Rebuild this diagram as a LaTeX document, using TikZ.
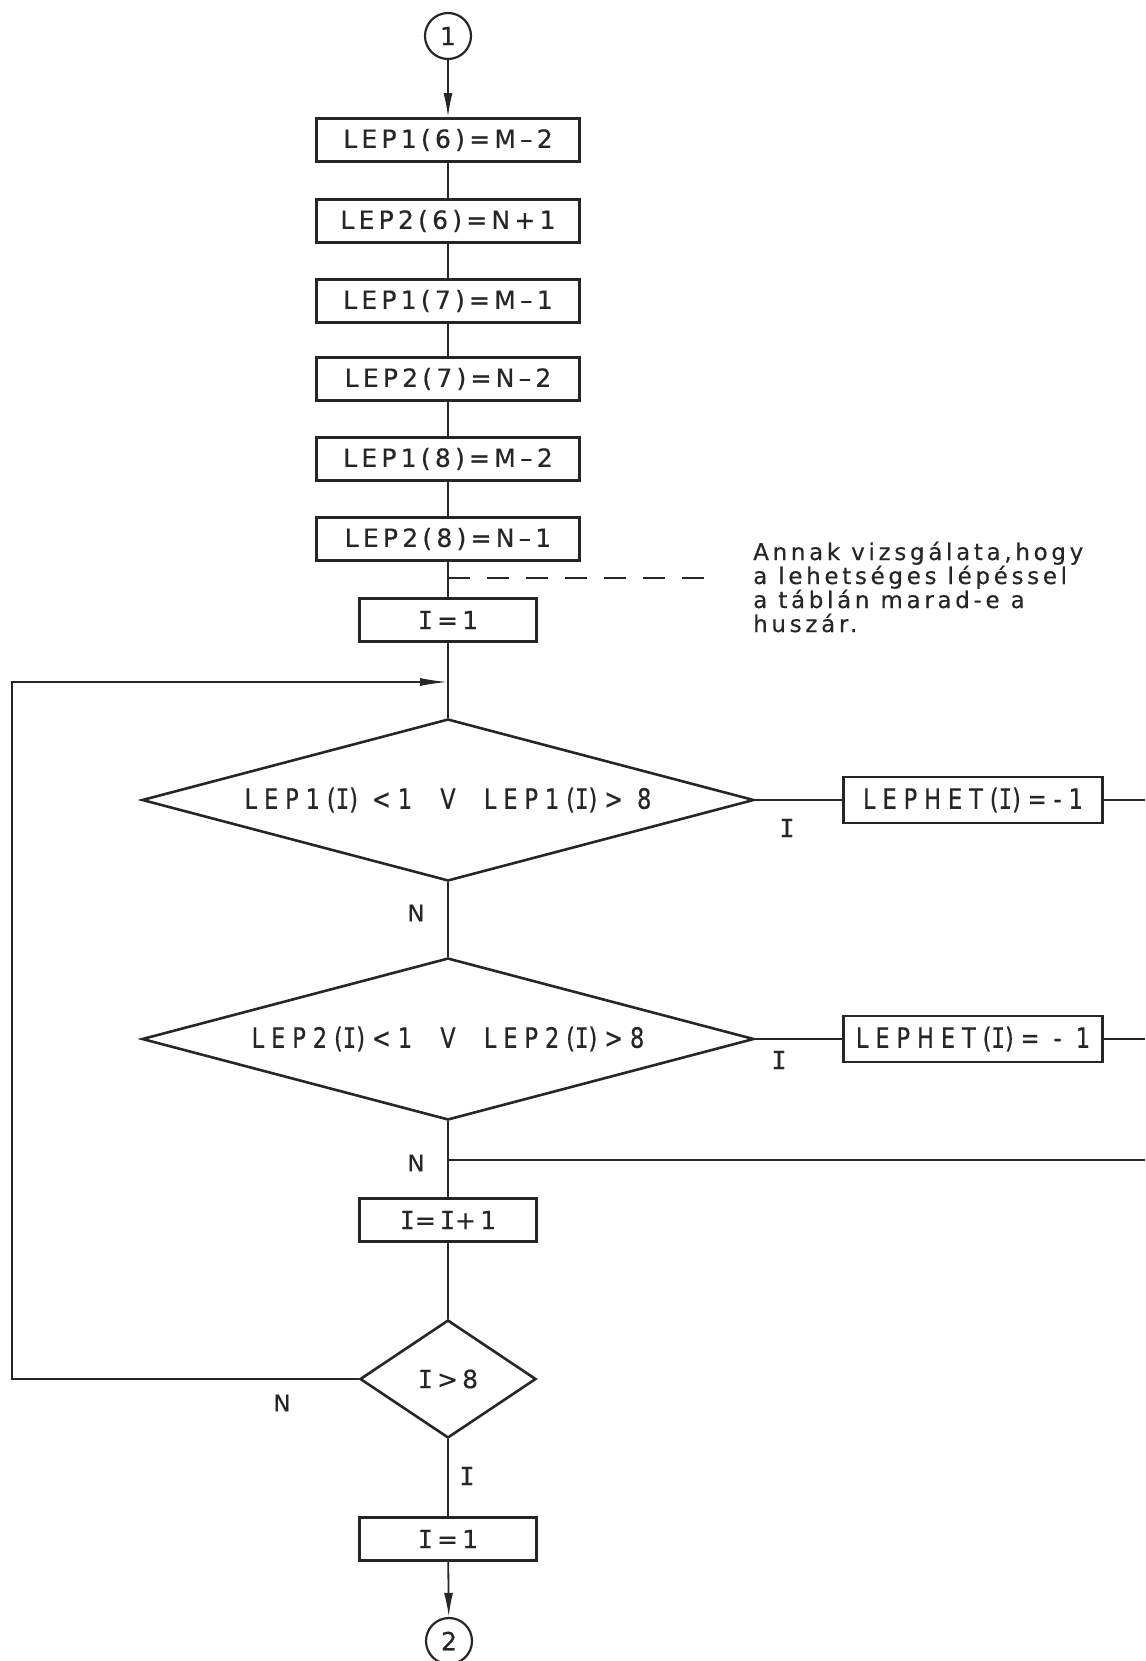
\documentclass[tikz,border=0pt]{standalone}
\usepackage{fontspec}
\usetikzlibrary{shapes.geometric,arrows.meta}
\setmainfont{DejaVu Sans}
\newfontfamily\boxfont{DejaVu Sans}[LetterSpace=17,FakeBold=0.5]
\newfontfamily\notefont{DejaVu Sans}[LetterSpace=16,FakeBold=0.4]
\newfontfamily\condfont{DejaVu Sans}[FakeStretch=0.8,LetterSpace=25,FakeBold=0.5]
\newfontfamily\monoI{DejaVu Sans Mono}[FakeBold=0.5]
\newfontfamily\condmonoI{DejaVu Sans Mono}[FakeStretch=0.8,FakeBold=0.5]
% serifed capital I as used in the stencil lettering
\newcommand\romI{{\monoI I}}
\newcommand\cndI{{\condmonoI I}}
\newcommand\boxtxt{\boxfont\fontsize{25}{30}\selectfont}
\newcommand\condtxt{\condfont\fontsize{28}{32}\selectfont}
\newcommand\notetxt{\notefont\fontsize{23}{25}\selectfont}
\definecolor{ink}{RGB}{38,38,38}
\begin{document}
\begin{tikzpicture}[x=1pt,y=-1pt,
  procbox/.style={draw=ink,line width=2.6pt,rectangle,inner sep=0pt,
    minimum height=43pt,font=\boxtxt,text=ink},
  widebox/.style={procbox,minimum width=263pt},
  narrowbox/.style={procbox,minimum width=177pt},
  setbox/.style={procbox,minimum width=259pt,minimum height=46pt,font=\condtxt},
  decision/.style={diamond,draw=ink,line width=2.6pt,inner sep=0pt,text=ink},
  conn/.style={draw=ink,line width=1.8pt},
  flow/.style={conn,-{Latex[length=24pt,width=9pt]}},
  loopflow/.style={conn,-{Latex[length=28pt,width=8pt]}},
  connector/.style={circle,draw=ink,line width=2.2pt,minimum size=46pt,
    inner sep=0pt,font=\boxtxt,text=ink},
  lbl/.style={inner sep=0pt,text=ink,font=\notetxt},
  note/.style={inner sep=0pt,text=ink,font=\notetxt,anchor=base west}]
\useasboundingbox (0,0) rectangle (1145,1661);

% connector circles
\node[connector] (c1) at (448,36) {1};
\node[connector] (c2) at (449,1641) {2};

% initial assignments
\node[widebox] (b1) at (448,140) {LEP1(6)=M\,–\,2};
\node[widebox] (b2) at (448,221) {LEP2(6)=N+1};
\node[widebox] (b3) at (448,301) {LEP1(7)=M–1};
\node[widebox] (b4) at (448,379) {LEP2(7)=N–2};
\node[widebox] (b5) at (448,459) {LEP1(8)=M–2};
\node[widebox] (b6) at (448,539) {LEP2(8)=N\,–\,1};
\node[narrowbox] (i1) at (448,620) {\romI\,=\,1};

% loop body
\coordinate (join) at (448,682);
\node[decision,aspect=3.78,minimum width=612pt,minimum height=162pt,font=\condtxt]
  (d1) at (448,800) {LEP1(\cndI) <1\ \ V\ \ LEP1(\cndI)> 8};
\node[setbox] (h1) at (973,800) {LEPHET(\cndI)=-1};
\node[decision,aspect=3.78,minimum width=612pt,minimum height=162pt,font=\condtxt]
  (d2) at (448,1039) {LEP2(\cndI)<1\ \ V\ \ LEP2(\cndI)>8};
\node[setbox] (h2) at (973,1039) {LEPHET(\cndI)= - 1};
\coordinate (merge) at (448,1160);
\node[narrowbox] (inc) at (448,1220) {\romI=\,\romI+1};
\node[decision,aspect=1.49,minimum width=176pt,minimum height=118pt,font=\boxtxt]
  (d3) at (448,1379) {\romI\,>\,8};
\node[narrowbox] (i2) at (448,1539) {\romI\,=\,1};

% free ends at the sheet border
\coordinate (r1) at (1145,800);
\coordinate (r2) at (1145,1039);
\coordinate (r3) at (1145,1160);
\coordinate (lft) at (12,1379);

% main line
\draw[flow] (c1) -- (b1);
\draw[conn] (b1) -- (b2) (b2) -- (b3) (b3) -- (b4) (b4) -- (b5) (b5) -- (b6)
  (b6) -- (i1) (i1) -- (d1.north) (d1.south) -- (d2.north)
  (d2.south) -- (inc.north) (inc.south) -- (d3.north) (d3.south) -- (i2.north);
\draw[flow] (i2) -- (c2);

% true branches
\draw[conn] (d1.east) -- (h1.west) (h1.east) -- (r1);
\draw[conn] (d2.east) -- (h2.west) (h2.east) -- (r2);
\draw[conn] (merge) -- (r3);

% back edge
\draw[loopflow] (d3.west) -- (lft) |- (join);

% branch labels
\node[lbl] (n1) at (416,913) {N};
\node[lbl] (n2) at (416,1163) {N};
\node[lbl] (n3) at (282,1403) {N};
\node[lbl,font=\boxtxt] (y1) at (787,828) {\romI};
\node[lbl,font=\boxtxt] (y2) at (779,1060) {\romI};
\node[lbl,font=\boxtxt] (y3) at (467,1476) {\romI};

% comment
\coordinate (cm) at (448,578);
\coordinate (cmend) at (712,578);
\draw[conn,dash pattern=on 22pt off 17pt] (cm) -- (cmend);
\node[note] (a1) at (753,560) {Annak vizsgálata,hogy};
\node[note] (a2) at (753,584) {a lehetséges lépéssel};
\node[note] (a3) at (753,608) {a táblán marad-e a};
\node[note] (a4) at (753,632) {huszár.};
\end{tikzpicture}
\end{document}
